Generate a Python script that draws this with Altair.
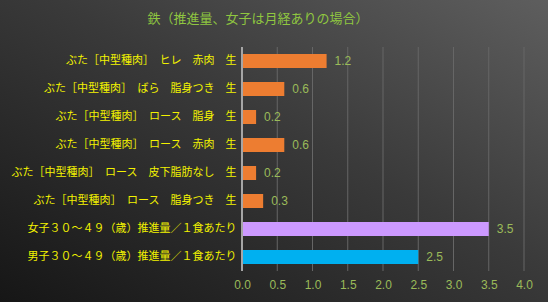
import altair as alt
import pandas as pd

categories = [
    "ぶた［中型種肉］　ヒレ　赤肉　生",
    "ぶた［中型種肉］　ばら　脂身つき　生",
    "ぶた［中型種肉］　ロース　脂身　生",
    "ぶた［中型種肉］　ロース　赤肉　生",
    "ぶた［中型種肉］　ロース　皮下脂肪なし　生",
    "ぶた［中型種肉］　ロース　脂身つき　生",
    "女子３０～４９（歳）推進量／１食あたり",
    "男子３０～４９（歳）推進量／１食あたり",
]
values = [1.2, 0.6, 0.2, 0.6, 0.2, 0.3, 3.5, 2.5]
colors = ["#ED7D31", "#ED7D31", "#ED7D31", "#ED7D31", "#ED7D31", "#ED7D31", "#CC99FF", "#00B0F0"]
tick_values = [0, 0.5, 1.0, 1.5, 2.0, 2.5, 3.0, 3.5, 4.0]
title_text = "鉄（推進量、女子は月経ありの場合）"

df = pd.DataFrame({"cat": categories, "val": values, "col": colors})
ticks_df = pd.DataFrame({"t": tick_values})

W, H = 282, 224
PL, PT, PR, PB = 242, 47, 24, 31
FONT = "Noto Sans CJK JP"
NUMFONT = "Liberation Sans"

bg = alt.Chart(pd.DataFrame({"a": [0]})).mark_rect(
    clip=False,
    color=alt.LinearGradient(
        gradient="linear",
        stops=[alt.GradientStop(color="#161616", offset=0),
               alt.GradientStop(color="#3a3a3a", offset=0.55),
               alt.GradientStop(color="#5e5e5e", offset=1)],
        x1=0, y1=1, x2=1, y2=0,
    ),
).encode(
    x=alt.value(-PL), x2=alt.value(W + PR),
    y=alt.value(-PT), y2=alt.value(H + PB),
)

title = alt.Chart(pd.DataFrame({"t": [title_text]})).mark_text(
    clip=False, color="#8FC640", font=FONT, fontSize=13, align="center", baseline="middle"
).encode(text="t:N", x=alt.value(258 - PL), y=alt.value(19 - PT))

xscale = alt.Scale(domain=[0, 4], nice=False)
xaxis = alt.Axis(values=tick_values, format=".1f", labelColor="#9BBB59",
                 labelFont=NUMFONT, labelFontSize=12, labelPadding=8,
                 labelOverlap=False, ticks=False, domain=False, grid=False,
                 zindex=1)
yaxis = alt.Axis(labelColor="#F2F200", labelFont=FONT, labelFontSize=11,
                 labelPadding=6, ticks=False, domain=False, grid=False,
                 labelLimit=300, zindex=1)

grid = alt.Chart(ticks_df).mark_rule(color="#666666", strokeWidth=1).encode(
    x=alt.X("t:Q", scale=xscale, axis=xaxis, title=None), y=alt.value(0), y2=alt.value(H)
)

base = alt.Chart(df)

y_enc = alt.Y("cat:N", sort=categories, title=None, axis=yaxis)
x_enc = alt.X("val:Q", scale=xscale, title=None, axis=xaxis)

bars = base.mark_bar(size=14).encode(
    y=y_enc, x=x_enc,
    color=alt.Color("col:N", scale=None, legend=None),
)

zero = base.mark_rule(color="#A6A6A6", strokeWidth=1).encode(
    x=alt.X(datum=0, scale=xscale, axis=xaxis, title=None), y=alt.value(0), y2=alt.value(H)
)

labels = base.mark_text(align="left", dx=8, color="#9BBB59", font=NUMFONT,
                        fontSize=12).encode(
    y=y_enc,
    x=x_enc,
    text=alt.Text("val:Q", format=".1f"),
)

chart = alt.layer(bg, title, grid, bars, zero, labels).properties(
    width=W, height=H,
    padding={"left": PL, "top": PT, "right": PR, "bottom": PB},
    autosize=alt.AutoSizeParams(type="none"),
).configure_view(stroke=None).configure(background="#2a2a2a").configure_axisX(
    labelOverlap=False, labelFlush=False
)

chart.save("out.html", embed_options={"renderer": "svg", "actions": False})
